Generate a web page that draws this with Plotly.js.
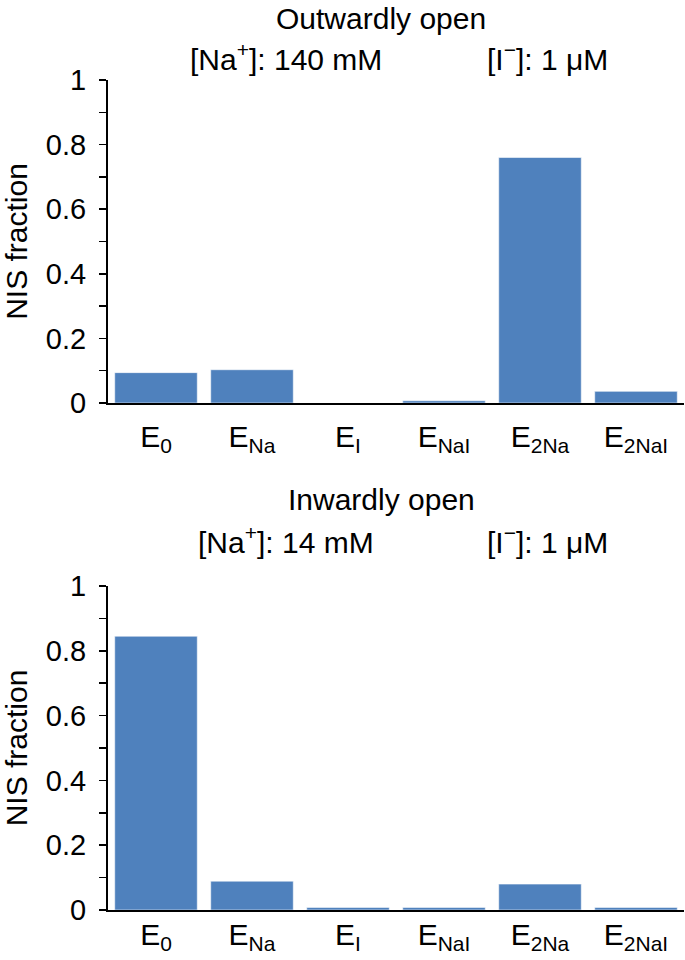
<!DOCTYPE html>
<html>
<head>
<meta charset="utf-8">
<script src="https://cdn.plot.ly/plotly-3.0.1.min.js"></script>
<style>html,body{margin:0;padding:0;background:#fff;}#chart{width:685px;height:960px;}</style>
</head>
<body>
<div id="chart"></div>
<script>
const categories = ['E0', 'ENa', 'EI', 'ENaI', 'E2Na', 'E2NaI'];
const categoryLabels = ['E<sub>0</sub>', 'E<sub>Na</sub>', 'E<sub>I</sub>', 'E<sub>NaI</sub>', 'E<sub>2Na</sub>', 'E<sub>2NaI</sub>'];
const outwardValues = [0.094, 0.103, 0.0, 0.007, 0.760, 0.036];
const inwardValues = [0.845, 0.089, 0.008, 0.008, 0.080, 0.008];
const yTickVals = [0, 0.2, 0.4, 0.6, 0.8, 1];
const yTickText = ['0', '0.2', '0.4', '0.6', '0.8', '1'];
const yMinorVals = [0.1, 0.3, 0.5, 0.7, 0.9];
const outwardTitle = 'Outwardly open';
const inwardTitle = 'Inwardly open';
const outwardNa = '[Na<sup>+</sup>]: 140 mM';
const inwardNa = '[Na<sup>+</sup>]: 14 mM';
const iodide = '[I<sup>\u2212</sup>]: 1 \u03bcM';
const yTitle = 'NIS fraction';

const FONT = 'Liberation Sans, Arial, Helvetica, sans-serif';
const H = 960;
const py = px => 1 - px / H;

const barStyle = {color: '#4f81bd', line: {color: 'rgba(255,255,255,0.55)', width: 1}};

const traces = [
  {type: 'bar', x: categories, y: outwardValues, xaxis: 'x', yaxis: 'y', marker: barStyle, hoverinfo: 'x+y'},
  {type: 'bar', x: categories, y: inwardValues, xaxis: 'x2', yaxis: 'y2', marker: barStyle, hoverinfo: 'x+y'}
];

function xAx(anchor, standoff) {
  return {
    anchor: anchor, domain: [0, 1], type: 'category',
    tickmode: 'array', tickvals: categories, ticktext: categoryLabels,
    showline: true, linecolor: '#000', linewidth: 2, ticks: '',
    ticklabelstandoff: standoff,
    tickfont: {family: FONT, size: 30, color: '#000'},
    showgrid: false, zeroline: false, fixedrange: true
  };
}
function yAx(anchor, dom) {
  return {
    anchor: anchor, domain: dom, range: [0, 1],
    tickmode: 'array', tickvals: yTickVals, ticktext: yTickText,
    ticks: 'outside', ticklen: 7, tickwidth: 1.5, tickcolor: '#000',
    minor: {tickvals: yMinorVals, ticks: 'outside', ticklen: 7, tickwidth: 1.5, tickcolor: '#000'},
    showline: true, linecolor: '#000', linewidth: 2,
    ticklabelstandoff: 7,
    tickfont: {family: FONT, size: 29, color: '#000'},
    title: {text: yTitle, font: {family: FONT, size: 30, color: '#000'}, standoff: 10},
    showgrid: false, zeroline: false, fixedrange: true
  };
}

const ann = (text, x, ypx, size) => ({
  text: text, xref: 'paper', yref: 'paper', x: x, y: py(ypx),
  xanchor: 'center', yanchor: 'middle', showarrow: false,
  font: {family: FONT, size: size, color: '#000'}
});

// paper x: 0 -> 108px, 1 -> 684px
const px2x = px => (px - 108) / 576;

const layout = {
  width: 685, height: 960,
  margin: {l: 108, r: 1, t: 0, b: 0},
  paper_bgcolor: '#fff', plot_bgcolor: '#fff',
  showlegend: false, bargap: 0.14,
  xaxis: xAx('y', 6),
  yaxis: yAx('x', [py(403), py(80)]),
  xaxis2: xAx('y2', -3),
  yaxis2: yAx('x2', [py(910), py(586)]),
  annotations: [
    ann(outwardTitle, px2x(381), 19, 30),
    ann(outwardNa, px2x(286), 57, 30),
    ann(iodide, px2x(547), 57, 30),
    ann(inwardTitle, px2x(381), 499, 30),
    ann(inwardNa, px2x(286), 540, 30),
    ann(iodide, px2x(547), 540, 30)
  ]
};

Plotly.newPlot('chart', traces, layout, {displayModeBar: false, staticPlot: true});
</script>
</body>
</html>
